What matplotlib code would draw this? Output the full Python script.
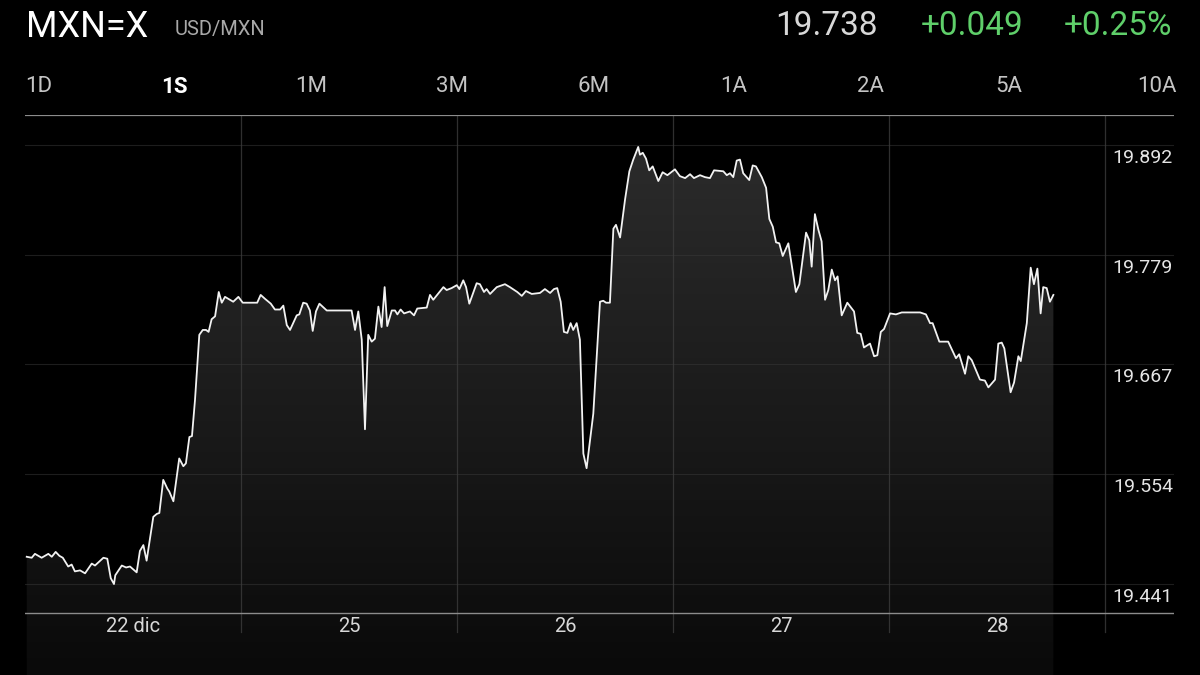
import numpy as np
import matplotlib
matplotlib.use("Agg")
import matplotlib.pyplot as plt
import matplotlib.transforms as mtransforms
from matplotlib.colors import LinearSegmentedColormap

plt.rcParams['font.family'] = ['Roboto', 'DejaVu Sans']

# quote header
symbol = "MXN=X"
pair_name = "USD/MXN"
last_price = "19.738"
change_abs = "+0.049"
change_pct = "+0.25%"

# range tabs
tabs = ["1D", "1S", "1M", "3M", "6M", "1A", "2A", "5A", "10A"]
active_tab = "1S"

# x axis: trading days (one unit per day)
day_labels = ["22 dic", "25", "26", "27", "28"]

# y axis gridlines
y_ticks = [19.441, 19.554, 19.667, 19.779, 19.892]

# price series (x in trading days from 22 dic start)
t_days = [0.008, 0.031, 0.046, 0.077, 0.108, 0.124, 0.142, 0.159, 0.175, 0.200,
          0.216, 0.231, 0.255, 0.278, 0.309, 0.324, 0.363, 0.381, 0.397, 0.412,
          0.418, 0.448, 0.468, 0.486, 0.517, 0.532, 0.548, 0.563, 0.594, 0.610,
          0.622, 0.640, 0.659, 0.668, 0.687, 0.714, 0.733, 0.745, 0.761, 0.773,
          0.787, 0.807, 0.823, 0.838, 0.850, 0.864, 0.880, 0.897, 0.911, 0.926,
          0.964, 0.988, 1.008, 1.075, 1.091, 1.111, 1.138, 1.157, 1.181, 1.196,
          1.212, 1.227, 1.258, 1.270, 1.288, 1.304, 1.319, 1.332, 1.347, 1.363,
          1.397, 1.458, 1.512, 1.528, 1.543, 1.559, 1.574, 1.589, 1.605, 1.620,
          1.636, 1.651, 1.665, 1.677, 1.698, 1.713, 1.724, 1.739, 1.755, 1.782,
          1.801, 1.816, 1.860, 1.875, 1.890, 1.937, 1.952, 1.975, 1.999, 2.011,
          2.029, 2.042, 2.057, 2.091, 2.106, 2.125, 2.137, 2.153, 2.184, 2.222,
          2.245, 2.279, 2.300, 2.319, 2.346, 2.384, 2.407, 2.431, 2.449, 2.464,
          2.480, 2.495, 2.511, 2.526, 2.538, 2.554, 2.569, 2.585, 2.600, 2.631,
          2.662, 2.677, 2.690, 2.708, 2.724, 2.736, 2.755, 2.778, 2.798, 2.816,
          2.839, 2.847, 2.860, 2.875, 2.890, 2.906, 2.932, 2.952, 2.974, 3.009,
          3.032, 3.056, 3.079, 3.097, 3.125, 3.148, 3.171, 3.190, 3.233, 3.249,
          3.264, 3.279, 3.295, 3.310, 3.325, 3.353, 3.369, 3.384, 3.411, 3.431,
          3.446, 3.462, 3.477, 3.492, 3.508, 3.534, 3.569, 3.585, 3.616, 3.631,
          3.642, 3.657, 3.673, 3.688, 3.704, 3.719, 3.735, 3.750, 3.762, 3.781,
          3.807, 3.838, 3.853, 3.869, 3.884, 3.912, 3.931, 3.946, 3.962, 3.977,
          4.005, 4.032, 4.059, 4.097, 4.144, 4.171, 4.190, 4.202, 4.233, 4.274,
          4.310, 4.325, 4.352, 4.367, 4.383, 4.421, 4.444, 4.460, 4.491, 4.506,
          4.522, 4.534, 4.563, 4.579, 4.599, 4.610, 4.638, 4.656, 4.671, 4.687,
          4.702, 4.714, 4.730, 4.745, 4.761]
price = [19.469, 19.468, 19.472, 19.468, 19.472, 19.469, 19.474, 19.470, 19.468, 19.459,
         19.461, 19.454, 19.455, 19.452, 19.462, 19.460, 19.468, 19.467, 19.447, 19.441,
         19.450, 19.460, 19.458, 19.459, 19.453, 19.475, 19.481, 19.465, 19.510, 19.513,
         19.514, 19.548, 19.539, 19.536, 19.526, 19.570, 19.562, 19.565, 19.592, 19.593,
         19.630, 19.697, 19.702, 19.702, 19.700, 19.713, 19.716, 19.741, 19.730, 19.736,
         19.731, 19.736, 19.730, 19.730, 19.738, 19.734, 19.729, 19.723, 19.723, 19.727,
         19.707, 19.702, 19.717, 19.718, 19.730, 19.729, 19.722, 19.701, 19.721, 19.729,
         19.722, 19.722, 19.722, 19.702, 19.721, 19.692, 19.600, 19.697, 19.690, 19.693,
         19.726, 19.705, 19.746, 19.706, 19.722, 19.722, 19.718, 19.723, 19.719, 19.721,
         19.717, 19.724, 19.725, 19.738, 19.733, 19.746, 19.743, 19.745, 19.748, 19.744,
         19.753, 19.746, 19.729, 19.750, 19.749, 19.741, 19.744, 19.739, 19.746, 19.749,
         19.746, 19.741, 19.737, 19.742, 19.739, 19.740, 19.744, 19.740, 19.744, 19.745,
         19.731, 19.700, 19.699, 19.709, 19.702, 19.709, 19.692, 19.575, 19.560, 19.616,
         19.731, 19.732, 19.730, 19.730, 19.806, 19.810, 19.797, 19.836, 19.865, 19.877,
         19.890, 19.882, 19.884, 19.878, 19.866, 19.870, 19.855, 19.864, 19.861, 19.867,
         19.860, 19.858, 19.862, 19.858, 19.861, 19.859, 19.858, 19.866, 19.865, 19.861,
         19.863, 19.859, 19.876, 19.877, 19.863, 19.856, 19.871, 19.870, 19.859, 19.848,
         19.816, 19.808, 19.792, 19.791, 19.778, 19.791, 19.741, 19.749, 19.802, 19.794,
         19.767, 19.821, 19.805, 19.793, 19.733, 19.743, 19.764, 19.753, 19.757, 19.717,
         19.730, 19.721, 19.699, 19.698, 19.684, 19.688, 19.675, 19.676, 19.700, 19.703,
         19.719, 19.718, 19.720, 19.720, 19.720, 19.718, 19.709, 19.709, 19.690, 19.690,
         19.673, 19.677, 19.657, 19.675, 19.671, 19.651, 19.650, 19.643, 19.651, 19.688,
         19.689, 19.683, 19.638, 19.648, 19.675, 19.670, 19.709, 19.766, 19.749, 19.765,
         19.719, 19.746, 19.745, 19.731, 19.738]

W, H = 1200, 675
fig = plt.figure(figsize=(W / 100, H / 100), dpi=100, facecolor='black')

# plot box in pixels
left_px, right_px, top_px, bottom_px = 25, 1174, 115, 675
day_px = 216.0
ppu = 110 / (y_ticks[4] - y_ticks[3])       # pixels per price unit
y_top = y_ticks[4] + (145 - top_px) / ppu
y_bot = y_ticks[4] - (bottom_px - 145) / ppu
x_max = (right_px - left_px) / day_px

ax = fig.add_axes([left_px / W, 0, (right_px - left_px) / W, (bottom_px - top_px) / H])
ax.set_facecolor('black')
ax.set_xlim(0, x_max)
ax.set_ylim(y_bot, y_top)
ax.axis('off')

t = np.array(t_days)
p = np.array(price)

# gradient fill under the line
fill = ax.fill_between(t, p, y_bot, facecolor='none', edgecolor='none')
cmap = LinearSegmentedColormap.from_list('g', ['#0a0a0a', '#2c2c2c'])
grad = np.linspace(0, 1, 256).reshape(-1, 1)
im = ax.imshow(grad, extent=[0, x_max, y_bot, y_ticks[4] + 0.01], origin='lower',
               aspect='auto', cmap=cmap, zorder=1)
im.set_clip_path(fill.get_paths()[0], transform=ax.transData)

# grid
for v in y_ticks:
    ax.axhline(v, color='#3a3a3a', lw=0.8, alpha=0.5, zorder=2)
bottom_line = y_ticks[4] - (613 - 145) / ppu
ax.axhline(bottom_line, color='#8c8c8c', lw=1.0, zorder=3)
ax.axhline(y_top, color='#8c8c8c', lw=1.6, zorder=3)
for d in range(1, 6):
    ax.axvline(d, ymin=(bottom_px - 632) / (bottom_px - top_px), ymax=1,
               color='#3c3c3c', lw=0.9, alpha=0.8, zorder=2)

ax.plot(t, p, color='#f2f2f2', lw=1.3, zorder=4, solid_joinstyle='round')

# price labels on the right
off = mtransforms.ScaledTranslation(0, -13 / 100, fig.dpi_scale_trans)
for v in y_ticks:
    ax.text(x_max - 0.005, v, f"{v:.3f}", ha='right', va='center', fontsize=14,
            color='#e4e4e4', transform=ax.transData + off, zorder=5)

# day labels
lab_y = (bottom_px - 626) / (bottom_px - top_px)
for i, lab in enumerate(day_labels):
    ax.text(i + 0.5, lab_y, lab, ha='center', va='center', fontsize=14.5,
            color='#d8d8d8', transform=ax.get_xaxis_transform())

# header
fig.text(26 / W, 1 - 27 / H, symbol, fontsize=26, color='white', va='center', ha='left')
fig.text(175 / W, 1 - 29 / H, pair_name, fontsize=14.5, color='#a8a8a8', va='center', ha='left')
fig.text(1172 / W, 1 - 26 / H, change_pct, fontsize=24, color='#5fcf6a', va='center', ha='right')
fig.text(1023 / W, 1 - 26 / H, change_abs, fontsize=24, color='#5fcf6a', va='center', ha='right')
fig.text(878 / W, 1 - 26 / H, last_price, fontsize=24, color='#d8d8d8', va='center', ha='right')

# tabs
tab_x = [39, 174, 311, 452, 594, 734, 870, 1009, 1157]
for lab, x in zip(tabs, tab_x):
    bold = lab == active_tab
    fig.text(x / W, 1 - 87 / H, lab, fontsize=16, ha='center', va='center',
             color='white' if bold else '#c4c4c4', fontweight='bold' if bold else 'normal')

fig.savefig('out.png', dpi=100, facecolor='black')
